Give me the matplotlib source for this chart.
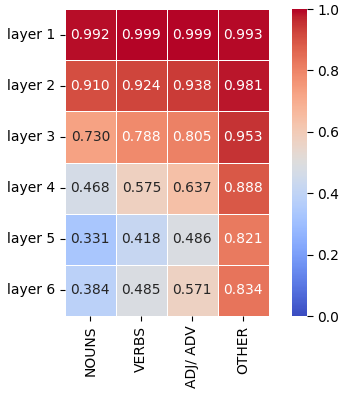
import numpy as np
import matplotlib
matplotlib.use("Agg")
import matplotlib.pyplot as plt
import seaborn as sns

# row / column labels
layers = ["layer 1", "layer 2", "layer 3", "layer 4", "layer 5", "layer 6"]
pos_tags = ["NOUNS", "VERBS", "ADJ/ ADV", "OTHER"]

# values per layer (NOUNS, VERBS, ADJ/ADV, OTHER)
layer1 = [0.992, 0.999, 0.999, 0.993]
layer2 = [0.910, 0.924, 0.938, 0.981]
layer3 = [0.730, 0.788, 0.805, 0.953]
layer4 = [0.468, 0.575, 0.637, 0.888]
layer5 = [0.331, 0.418, 0.486, 0.821]
layer6 = [0.384, 0.485, 0.571, 0.834]

scores = np.array([layer1, layer2, layer3, layer4, layer5, layer6])

fig = plt.figure(figsize=(3.45, 3.96), dpi=100)
ax = fig.add_axes([0.188, 0.202, 0.591, 0.775])
cax = fig.add_axes([0.846, 0.202, 0.043, 0.775])

sns.heatmap(scores, ax=ax, cbar_ax=cax, cmap="coolwarm", vmin=0, vmax=1,
            annot=True, fmt=".3f", linewidths=0.5, linecolor="white",
            xticklabels=pos_tags, yticklabels=layers)
ax.set_yticklabels(layers, rotation=0)
ax.set_xticklabels(pos_tags, rotation=90)
cax.tick_params(length=4)

fig.savefig("out.png", dpi=100)
